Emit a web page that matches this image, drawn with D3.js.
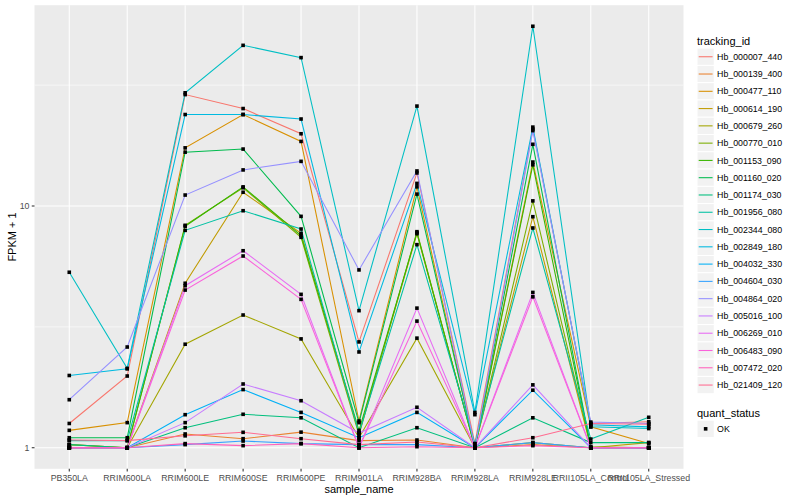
<!DOCTYPE html>
<html>
<head>
<meta charset="utf-8">
<script src="https://cdn.jsdelivr.net/npm/d3@7"></script>
<style>
  body { margin: 0; background: #fff; }
  text { font-family: "Liberation Sans", Arial, sans-serif; }
</style>
</head>
<body>
<div class="container"></div>
<script>
// samples on the x axis
const samples = ["PB350LA", "RRIM600LA", "RRIM600LE", "RRIM600SE", "RRIM600PE", "RRIM901LA",
  "RRIM928BA", "RRIM928LA", "RRIM928LE", "RRII105LA_Control", "RRII105LA_Stressed"]

const trackingIds = ["Hb_000007_440", "Hb_000139_400", "Hb_000477_110", "Hb_000614_190", "Hb_000679_260",
  "Hb_000770_010", "Hb_001153_090", "Hb_001160_020", "Hb_001174_030", "Hb_001956_080",
  "Hb_002344_080", "Hb_002849_180", "Hb_004032_330", "Hb_004604_030", "Hb_004864_020",
  "Hb_005016_100", "Hb_006269_010", "Hb_006483_090", "Hb_007472_020", "Hb_021409_120"]

// FPKM + 1, one array per gene (same order as samples)
const hb_000007_440 = [1.26, 1.98, 28.9, 25.3, 19.9, 2.74, 13.7, 1.04, 20.8, 1.26, 1.28]
const hb_000139_400 = [1.03, 1.00, 1.14, 1.09, 1.16, 1.07, 1.076, 1.00, 1.03, 1.00, 1.00]
const hb_000477_110 = [1.18, 1.27, 17.4, 23.9, 18.5, 1.29, 12.0, 1.00, 15.2, 1.22, 1.04]
const hb_000614_190 = [1.00, 1.00, 4.79, 11.4, 7.71, 1.15, 7.68, 1.01, 9.03, 1.00, 1.05]
const hb_000679_260 = [1.00, 1.00, 2.68, 3.54, 2.82, 1.10, 2.84, 1.00, 1.05, 1.00, 1.00]
const hb_000770_010 = [1.03, 1.00, 8.32, 11.9, 7.42, 1.13, 7.83, 1.00, 10.5, 1.01, 1.00]
const hb_001153_090 = [1.00, 1.00, 8.25, 12.0, 7.55, 1.18, 7.75, 1.00, 14.8, 1.00, 1.00]
const hb_001160_020 = [1.10, 1.10, 16.7, 17.2, 9.06, 1.27, 11.2, 1.00, 18.0, 1.00, 1.00]
const hb_001174_030 = [1.03, 1.00, 1.21, 1.375, 1.33, 1.00, 1.21, 1.00, 1.33, 1.05, 1.05]
const hb_001956_080 = [1.07, 1.07, 7.93, 9.56, 8.03, 1.15, 6.92, 1.04, 8.11, 1.086, 1.336]
const hb_002344_080 = [5.32, 2.13, 29.4, 46.2, 41.1, 3.69, 25.9, 1.40, 55.4, 1.22, 1.20]
const hb_002849_180 = [1.99, 2.12, 23.9, 23.9, 22.9, 2.49, 12.4, 1.37, 21.2, 1.245, 1.22]
const hb_004032_330 = [1.00, 1.00, 1.37, 1.74, 1.40, 1.10, 1.40, 1.00, 1.73, 1.00, 1.00]
const hb_004604_030 = [1.00, 1.00, 1.03, 1.066, 1.04, 1.03, 1.03, 1.00, 1.05, 1.00, 1.00]
const hb_004864_020 = [1.58, 2.61, 11.1, 14.1, 15.3, 5.44, 13.96, 1.00, 20.5, 1.277, 1.26]
const hb_005016_100 = [1.00, 1.00, 1.27, 1.835, 1.565, 1.15, 1.47, 1.00, 1.82, 1.00, 1.00]
const hb_006269_010 = [1.00, 1.00, 4.68, 6.53, 4.31, 1.00, 3.78, 1.00, 4.39, 1.00, 1.00]
const hb_006483_090 = [1.00, 1.00, 4.49, 6.21, 4.11, 1.00, 3.34, 1.00, 4.21, 1.00, 1.00]
const hb_007472_020 = [1.00, 1.00, 1.04, 1.02, 1.04, 1.00, 1.01, 1.00, 1.02, 1.00, 1.00]
const hb_021409_120 = [1.076, 1.07, 1.12, 1.158, 1.09, 1.03, 1.056, 1.00, 1.10, 1.26, 1.25]

const seriesValues = [hb_000007_440, hb_000139_400, hb_000477_110, hb_000614_190, hb_000679_260,
  hb_000770_010, hb_001153_090, hb_001160_020, hb_001174_030, hb_001956_080,
  hb_002344_080, hb_002849_180, hb_004032_330, hb_004604_030, hb_004864_020,
  hb_005016_100, hb_006269_010, hb_006483_090, hb_007472_020, hb_021409_120]

const yTicks = [1, 10]
const quantStatus = ["OK"]

// ggplot hue palette for 20 groups
const palette = ["#F8766D", "#EA8331", "#D89000", "#C09B00", "#A3A500", "#7CAE00", "#39B600",
  "#00BB4E", "#00BF7D", "#00C1A3", "#00BFC4", "#00BAE0", "#00B0F6", "#35A2FF", "#9590FF",
  "#C77CFF", "#E76BF3", "#FA62DB", "#FF62BC", "#FF6C91"]

const W = 800, H = 500
const panel = { left: 34.5, right: 683.5, top: 5.2, bottom: 468.8 }

const svg = d3.select("div.container").append("svg")
    .attr("width", W).attr("height", H)

// scales
const x = d3.scalePoint()
    .domain(samples)
    .range([panel.left, panel.right])
    .padding(0.6)

// log scale, expanded 5% on each side like ggplot
const allVals = seriesValues.flat()
const lo = Math.log10(d3.min(allVals)), hi = Math.log10(d3.max(allVals))
const pad = (hi - lo) * 0.05
const y = d3.scaleLog()
    .domain([Math.pow(10, lo - pad), Math.pow(10, hi + pad)])
    .range([panel.bottom, panel.top])

// panel background
svg.append("rect")
    .attr("x", panel.left).attr("y", panel.top)
    .attr("width", panel.right - panel.left).attr("height", panel.bottom - panel.top)
    .attr("fill", "#EBEBEB")

// minor gridlines halfway between decades
const minor = [Math.pow(10, -0.5), Math.pow(10, 0.5), Math.pow(10, 1.5)]
    .filter(v => v > y.domain()[0] && v < y.domain()[1])
svg.selectAll(".minor").data(minor).enter().append("line")
    .attr("x1", panel.left).attr("x2", panel.right)
    .attr("y1", d => y(d)).attr("y2", d => y(d))
    .attr("stroke", "#fff").attr("stroke-width", 0.55)

svg.selectAll(".ymajor").data(yTicks).enter().append("line")
    .attr("x1", panel.left).attr("x2", panel.right)
    .attr("y1", d => y(d)).attr("y2", d => y(d))
    .attr("stroke", "#fff").attr("stroke-width", 1.07)

svg.selectAll(".xmajor").data(samples).enter().append("line")
    .attr("x1", d => x(d)).attr("x2", d => x(d))
    .attr("y1", panel.top).attr("y2", panel.bottom)
    .attr("stroke", "#fff").attr("stroke-width", 1.07)

// lines
const line = d3.line()
    .x((d, i) => x(samples[i]))
    .y(d => y(d))

svg.selectAll(".series").data(seriesValues).enter().append("path")
    .attr("class", "series")
    .attr("d", line)
    .attr("fill", "none")
    .attr("stroke", (d, i) => palette[i])
    .attr("stroke-width", 1.07)

// points
const pts = []
seriesValues.forEach((vals, s) => vals.forEach((v, i) => pts.push({ s: samples[i], v: v })))
svg.selectAll(".pt").data(pts).enter().append("rect")
    .attr("x", d => x(d.s) - 1.8).attr("y", d => y(d.v) - 1.8)
    .attr("width", 3.6).attr("height", 3.6)
    .attr("fill", "#000")

// axes
const xAxis = svg.append("g")
xAxis.selectAll("line").data(samples).enter().append("line")
    .attr("x1", d => x(d)).attr("x2", d => x(d))
    .attr("y1", panel.bottom).attr("y2", panel.bottom + 2.75)
    .attr("stroke", "#333").attr("stroke-width", 1.07)
xAxis.selectAll("text").data(samples).enter().append("text")
    .attr("x", d => x(d)).attr("y", panel.bottom + 12.5)
    .attr("text-anchor", "middle")
    .attr("font-size", 8.8).attr("fill", "#4D4D4D")
    .text(d => d)

const yAxis = svg.append("g")
yAxis.selectAll("line").data(yTicks).enter().append("line")
    .attr("x1", panel.left - 2.75).attr("x2", panel.left)
    .attr("y1", d => y(d)).attr("y2", d => y(d))
    .attr("stroke", "#333").attr("stroke-width", 1.07)
yAxis.selectAll("text").data(yTicks).enter().append("text")
    .attr("x", panel.left - 5).attr("y", d => y(d) + 3.1)
    .attr("text-anchor", "end")
    .attr("font-size", 8.8).attr("fill", "#4D4D4D")
    .text(d => d)

svg.append("text")
    .attr("x", (panel.left + panel.right) / 2).attr("y", 493)
    .attr("text-anchor", "middle").attr("font-size", 11)
    .text("sample_name")

svg.append("text")
    .attr("transform", "translate(16," + (panel.top + panel.bottom) / 2 + ") rotate(-90)")
    .attr("text-anchor", "middle").attr("font-size", 11)
    .text("FPKM + 1")

// legend: tracking_id
const keySize = 17.28
const lgX = 697
const lgY = 48.1
svg.append("text")
    .attr("x", lgX).attr("y", 44.5)
    .attr("font-size", 11)
    .text("tracking_id")

const keys = svg.selectAll(".key").data(trackingIds).enter().append("g")
    .attr("transform", (d, i) => "translate(" + lgX + "," + (lgY + i * keySize) + ")")
keys.append("rect")
    .attr("width", keySize).attr("height", keySize)
    .attr("fill", "#F2F2F2").attr("stroke", "#fff").attr("stroke-width", 1)
keys.append("line")
    .attr("x1", 1.7).attr("x2", keySize - 1.7)
    .attr("y1", keySize / 2).attr("y2", keySize / 2)
    .attr("stroke", (d, i) => palette[i]).attr("stroke-width", 1.07)
keys.append("text")
    .attr("x", keySize + 2.8).attr("y", keySize / 2 + 3.1)
    .attr("font-size", 8.8)
    .text(d => d)

// legend: quant_status
svg.append("text")
    .attr("x", lgX).attr("y", 416.5)
    .attr("font-size", 11)
    .text("quant_status")

const qKeys = svg.selectAll(".qkey").data(quantStatus).enter().append("g")
    .attr("transform", (d, i) => "translate(" + lgX + "," + (420.2 + i * keySize) + ")")
qKeys.append("rect")
    .attr("width", keySize).attr("height", keySize)
    .attr("fill", "#F2F2F2").attr("stroke", "#fff").attr("stroke-width", 1)
qKeys.append("rect")
    .attr("x", keySize / 2 - 1.8).attr("y", keySize / 2 - 1.8)
    .attr("width", 3.6).attr("height", 3.6)
    .attr("fill", "#000")
qKeys.append("text")
    .attr("x", keySize + 2.8).attr("y", keySize / 2 + 3.1)
    .attr("font-size", 8.8)
    .text(d => d)
</script>
</body>
</html>
